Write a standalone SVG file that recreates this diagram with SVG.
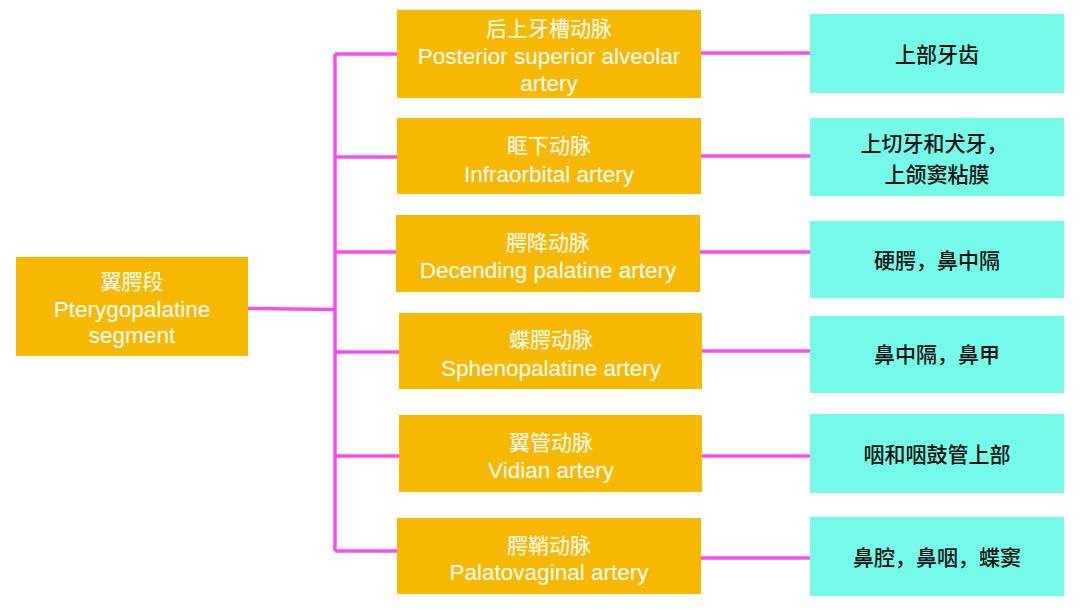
<svg xmlns="http://www.w3.org/2000/svg" width="1080" height="610" viewBox="0 0 1080 610">
<style>
.o{fill:#F7B801}
.c{fill:#75FAE7}
.w{fill:#FFFFFF;font-family:"Liberation Sans","Noto Sans CJK SC",sans-serif;font-size:22.5px;text-anchor:middle}
.wc{font-family:"Noto Sans CJK SC",sans-serif;font-size:21px}
.k{fill:#111111;font-family:"Noto Sans CJK SC",sans-serif;font-size:21px;font-weight:500;text-anchor:middle}
.ln{stroke:#F84CF4;stroke-width:3.5;fill:none}
</style>
<rect width="1080" height="610" fill="#FFFFFF"/>
<g id="connectors">
<path class="ln" d="M248 308.5 L335 309.5"/>
<path class="ln" d="M335 54 L335 551"/>
<path class="ln" d="M335 54 L397 54"/>
<path class="ln" d="M335 157 L397 157"/>
<path class="ln" d="M335 252 L396 252"/>
<path class="ln" d="M335 352 L399 352"/>
<path class="ln" d="M335 456 L399 456"/>
<path class="ln" d="M335 551 L397 551"/>
<path class="ln" d="M700 53 L810 53"/>
<path class="ln" d="M700 156 L810 156"/>
<path class="ln" d="M700 252 L810 252"/>
<path class="ln" d="M702 351 L810 351"/>
<path class="ln" d="M702 456 L810 456"/>
<path class="ln" d="M701 558 L810 558"/>
</g>
<g id="root">
<rect class="o" x="16" y="257" width="232" height="99"/>
<text class="w wc" x="132" y="289">翼腭段</text>
<text class="w" x="132" y="317">Pterygopalatine</text>
<text class="w" x="132" y="343">segment</text>
</g>
<g id="a1">
<rect class="o" x="397" y="10" width="304" height="88"/>
<text class="w wc" x="549" y="36">后上牙槽动脉</text>
<text class="w" x="549" y="64">Posterior superior alveolar</text>
<text class="w" x="549" y="91">artery</text>
</g>
<g id="a2">
<rect class="o" x="397" y="118" width="304" height="76"/>
<text class="w wc" x="549" y="153">眶下动脉</text>
<text class="w" x="549" y="182">Infraorbital artery</text>
</g>
<g id="a3">
<rect class="o" x="396" y="215" width="304" height="77"/>
<text class="w wc" x="548" y="250">腭降动脉</text>
<text class="w" x="548" y="278">Decending palatine artery</text>
</g>
<g id="a4">
<rect class="o" x="399" y="313" width="303" height="76"/>
<text class="w wc" x="551" y="347">蝶腭动脉</text>
<text class="w" x="551" y="376">Sphenopalatine artery</text>
</g>
<g id="a5">
<rect class="o" x="399" y="415" width="303" height="77"/>
<text class="w wc" x="551" y="450">翼管动脉</text>
<text class="w" x="551" y="478">Vidian artery</text>
</g>
<g id="a6">
<rect class="o" x="397" y="518" width="304" height="76"/>
<text class="w wc" x="549" y="553">腭鞘动脉</text>
<text class="w" x="549" y="580">Palatovaginal artery</text>
</g>
<g id="t1">
<rect class="c" x="810" y="14" width="254" height="79"/>
<text class="k" x="937" y="62">上部牙齿</text>
</g>
<g id="t2">
<rect class="c" x="810" y="118" width="254" height="78"/>
<text class="k" x="934" y="151">上切牙和犬牙，</text>
<text class="k" x="937" y="182">上颌窦粘膜</text>
</g>
<g id="t3">
<rect class="c" x="810" y="221" width="254" height="77"/>
<text class="k" x="937" y="268">硬腭，鼻中隔</text>
</g>
<g id="t4">
<rect class="c" x="810" y="316" width="254" height="77"/>
<text class="k" x="937" y="362">鼻中隔，鼻甲</text>
</g>
<g id="t5">
<rect class="c" x="810" y="414" width="254" height="79"/>
<text class="k" x="937" y="462">咽和咽鼓管上部</text>
</g>
<g id="t6">
<rect class="c" x="810" y="517" width="254" height="79"/>
<text class="k" x="937" y="565">鼻腔，鼻咽，蝶窦</text>
</g>
</svg>
